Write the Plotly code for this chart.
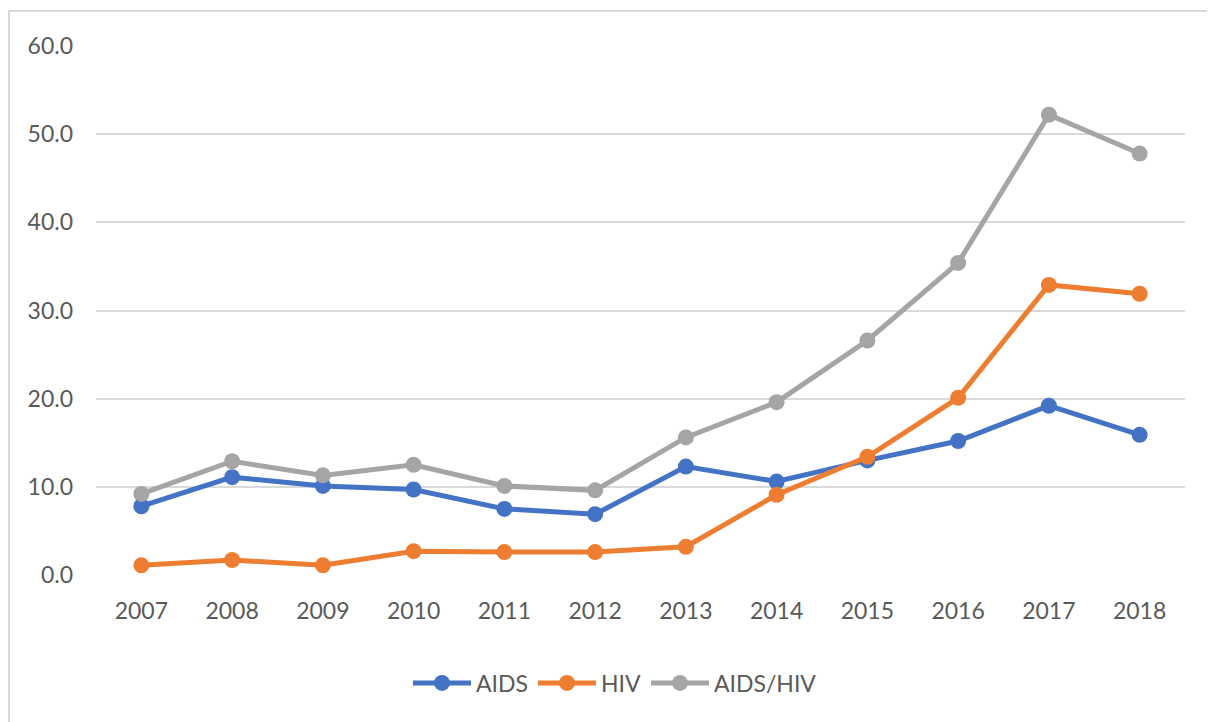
import plotly.graph_objects as go

years = ["2007", "2008", "2009", "2010", "2011", "2012", "2013", "2014", "2015", "2016", "2017", "2018"]
aids = [7.8, 11.1, 10.1, 9.7, 7.5, 6.9, 12.3, 10.6, 13.0, 15.2, 19.2, 15.9]
hiv = [1.1, 1.7, 1.1, 2.7, 2.6, 2.6, 3.2, 9.1, 13.4, 20.1, 32.9, 31.9]
aids_hiv = [9.2, 12.9, 11.3, 12.5, 10.1, 9.6, 15.6, 19.6, 26.6, 35.4, 52.2, 47.8]
yticks = [0, 10, 20, 30, 40, 50, 60]

series = [("AIDS", aids, "#4472C4"), ("HIV", hiv, "#ED7D31"), ("AIDS/HIV", aids_hiv, "#A5A5A5")]

fig = go.Figure()
for name, vals, col in series:
    fig.add_trace(go.Scatter(x=years, y=vals, name=name, mode="lines+markers",
                             line=dict(color=col, width=5),
                             marker=dict(color=col, size=16)))

# the page has an 8px body margin; work in page coordinates and subtract it
OFF = 8
W, H = 1215 - OFF, 722 - OFF
L, T = 96 - OFF, 46 - OFF
R = W - (1185 - OFF)
B = H - (575 - OFF)
pw, ph = W - L - R, H - T - B

def px(x):
    return (x - OFF - L) / pw

def py(y):
    return (H - B - (y - OFF)) / ph

fig.update_layout(
    width=W, height=H,
    margin=dict(l=L, r=R, t=T, b=B),
    paper_bgcolor="white", plot_bgcolor="white",
    font=dict(family="Lato, Carlito, sans-serif", size=23, color="#595959"),
    showlegend=True,
    legend=dict(orientation="h", x=px(615), xanchor="center", y=py(683), yanchor="middle",
                font=dict(size=23, color="#595959"), tracegroupgap=0, itemwidth=58),
    xaxis=dict(type="category", showgrid=False, showline=False, zeroline=False,
               ticks="", ticklabelstandoff=20, range=[-0.5, 11.5]),
    yaxis=dict(range=[0, 60], tickvals=yticks, ticktext=[f"{v:.1f}" for v in yticks],
               showgrid=True, gridcolor="#D9D9D9", gridwidth=2, zeroline=False,
               showline=False, ticks="", ticklabelstandoff=22),
    shapes=[dict(type="rect", xref="paper", yref="paper",
                 x0=px(9), x1=px(1212), y0=py(780), y1=py(11),
                 line=dict(color="#D9D9D9", width=2), layer="below")],
)

fig.write_html("out.html")
